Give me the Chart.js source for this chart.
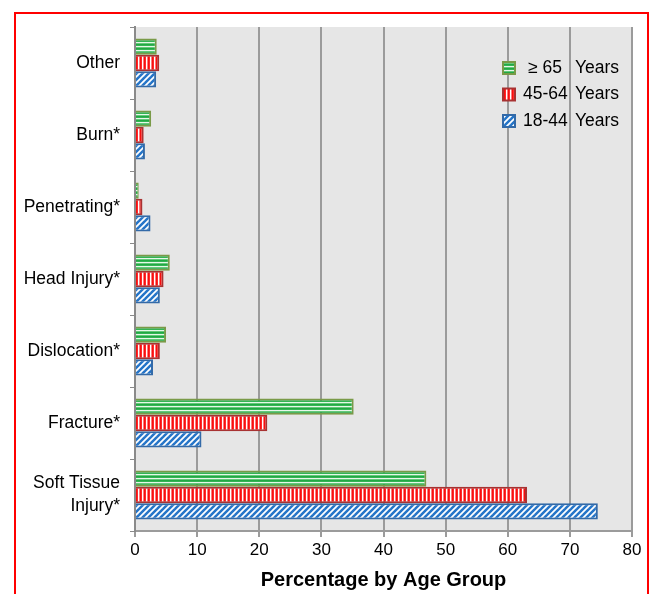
<!DOCTYPE html>
<html><head><meta charset="utf-8">
<script src="https://cdn.jsdelivr.net/npm/chart.js@4"></script>
<style>
html,body{margin:0;padding:0;background:#fff;overflow:hidden;}
#wrap{position:relative;width:652px;height:594px;overflow:hidden;}
#frame{position:absolute;left:14px;top:12px;width:631px;height:620px;border:2px solid #ff0000;pointer-events:none;}
canvas{position:absolute;left:0;top:0;}
</style></head><body>
<div id="wrap"><canvas id="c" width="652" height="594"></canvas><div id="frame"></div></div>
<script>
const categories = ['Other', 'Burn*', 'Penetrating*', 'Head Injury*', 'Dislocation*', 'Fracture*', ['Soft Tissue', 'Injury*']];
const seriesLabels = ['\u2265 65 Years', '45-64 Years', '18-44 Years'];
const age65plus = [3.5, 2.6, 0.6, 5.6, 5.0, 35.2, 46.9];
const age45to64 = [3.9, 1.4, 1.2, 4.6, 4.0, 21.3, 63.1];
const age18to44 = [3.4, 1.6, 2.5, 4.0, 2.9, 10.7, 74.5];
const xTicks = [0, 10, 20, 30, 40, 50, 60, 70, 80];

function tile(w, h, draw) {
  const c = document.createElement('canvas');
  c.width = w; c.height = h;
  const g = c.getContext('2d');
  draw(g, w, h);
  return document.getElementById('c').getContext('2d').createPattern(c, 'repeat');
}
const greenPat = tile(4, 4, (g) => {
  const rows = ['#22a844', '#33b553', '#e6f7e9', '#63c979'];
  rows.forEach((col, i) => { g.fillStyle = col; g.fillRect(0, i, 4, 1); });
});
const redPat = tile(4, 4, (g) => {
  const cols = ['#f50f0f', '#ff2a2a', '#ffffff', '#ff7a7a'];
  cols.forEach((col, i) => { g.fillStyle = col; g.fillRect(i, 0, 1, 4); });
});
const bluePat = tile(6, 6, (g, w, h) => {
  g.fillStyle = '#ffffff'; g.fillRect(0, 0, w, h);
  g.strokeStyle = '#2474c8'; g.lineWidth = 2.5;
  for (let k = -2; k <= 2; k++) {
    g.beginPath(); g.moveTo(k * w - 1, h + 1); g.lineTo(k * w + w + 1, -1); g.stroke();
  }
});
const fills = [greenPat, redPat, bluePat];
const borders = ['#7a9a48', '#a83232', '#336aa8'];

const bgPlugin = {
  id: 'plotBg',
  beforeDraw(chart) {
    const a = chart.chartArea, ctx = chart.ctx;
    ctx.save(); ctx.fillStyle = '#e6e6e6';
    ctx.fillRect(a.left, a.top, a.right - a.left, a.bottom - a.top);
    ctx.restore();
  }
};
const legendPlugin = {
  id: 'insideLegend',
  afterDraw(chart) {
    const a = chart.chartArea, ctx = chart.ctx;
    ctx.save();
    ctx.font = "17.5px 'Liberation Sans', Arial, sans-serif";
    ctx.textBaseline = 'middle';
    chart.data.datasets.forEach((ds, i) => {
      const y = a.top + 41 + i * 26.5;
      const bx = a.right - 129;
      ctx.fillStyle = ds.backgroundColor;
      ctx.fillRect(bx, y - 6, 12, 12);
      ctx.strokeStyle = ds.borderColor; ctx.lineWidth = 2;
      ctx.strokeRect(bx, y - 6, 12, 12);
      const lab = ds.label;
      const idx = lab.lastIndexOf(' ');
      ctx.fillStyle = '#000';
      ctx.textAlign = 'left';
      ctx.fillText(lab.slice(0, idx), a.right - 109 + (i === 0 ? 5 : 0), y);
      ctx.fillText(lab.slice(idx + 1), a.right - 57, y);
    });
    ctx.restore();
  }
};
function noPad(s) { s.paddingTop = 0; s.paddingBottom = 0; s.paddingLeft = 0; s.paddingRight = 0; }

Chart.defaults.font.family = "'Liberation Sans', Arial, sans-serif";
Chart.defaults.color = '#000';

new Chart(document.getElementById('c'), {
  type: 'bar',
  data: {
    labels: categories,
    datasets: [age65plus, age45to64, age18to44].map((d, i) => ({
      label: seriesLabels[i],
      data: d,
      backgroundColor: fills[i],
      borderColor: borders[i],
      borderWidth: 2,
      categoryPercentage: 0.68,
      barPercentage: 1.0
    }))
  },
  options: {
    indexAxis: 'y',
    responsive: false,
    animation: false,
    layout: { padding: { left: 0, right: 20, top: 27, bottom: 0 } },
    plugins: { legend: { display: false }, tooltip: { enabled: false } },
    scales: {
      x: {
        min: xTicks[0], max: xTicks[xTicks.length - 1],
        afterBuildTicks: (s) => { s.ticks = xTicks.map(v => ({ value: v })); },
        ticks: { font: { size: 17 }, color: '#000', padding: 3, maxRotation: 0 },
        grid: { color: '#9b9b9b', lineWidth: 2, tickLength: 6, tickColor: '#9b9b9b' },
        border: { color: '#9b9b9b', width: 2 },
        title: { display: true, text: 'Percentage by Age Group', font: { size: 20, weight: 'bold' }, color: '#000', padding: { top: 0, bottom: 2 } },
        afterFit: (s) => { s.height = 63; noPad(s); }
      },
      y: {
        ticks: { font: { size: 17.5, lineHeight: 1.3 }, color: '#000', padding: 10 },
        grid: { drawOnChartArea: false, tickLength: 5, color: '#8a8a8a', offset: true },
        border: { color: '#8a8a8a', width: 2 },
        afterFit: (s) => { s.width = 135; noPad(s); }
      }
    }
  },
  plugins: [bgPlugin, legendPlugin]
});
</script>
</body></html>
